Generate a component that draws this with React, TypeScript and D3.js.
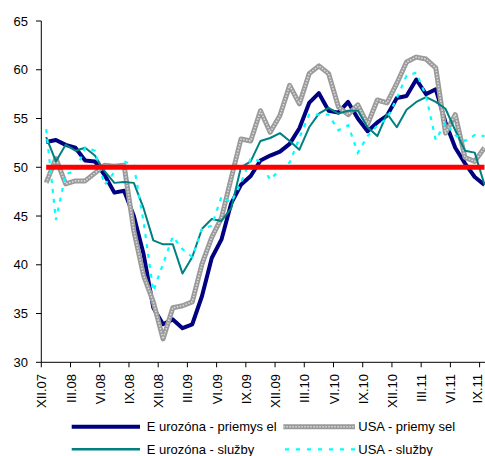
import React from "react";
import * as d3 from "d3";

const months = [
  "XII.07","I.08","II.08","III.08","IV.08","V.08","VI.08","VII.08","VIII.08","IX.08","X.08","XI.08",
  "XII.08","I.09","II.09","III.09","IV.09","V.09","VI.09","VII.09","VIII.09","IX.09","X.09","XI.09",
  "XII.09","I.10","II.10","III.10","IV.10","V.10","VI.10","VII.10","VIII.10","IX.10","X.10","XI.10",
  "XII.10","I.11","II.11","III.11","IV.11","V.11","VI.11","VII.11","VIII.11","IX.11",
];

const euroMfg = [52.6,52.8,52.3,52.0,50.7,50.6,49.2,47.4,47.6,45.0,41.1,35.6,33.9,34.4,33.5,33.9,36.8,40.7,42.6,46.3,48.2,49.1,50.7,51.2,51.6,52.4,54.0,56.6,57.6,55.8,55.6,56.7,55.0,53.7,54.6,55.3,57.1,57.3,59.0,57.5,58.0,54.6,52.0,50.4,49.0,48.2];
const usMfg = [48.4,50.9,48.3,48.6,48.6,49.4,50.2,50.1,50.2,43.5,38.9,36.2,32.4,35.6,35.8,36.2,40.1,42.8,44.8,48.9,52.9,52.7,55.8,53.6,55.3,58.4,56.5,59.6,60.4,59.6,56.2,55.4,56.4,54.4,56.9,56.6,58.6,60.8,61.3,61.1,60.2,53.5,55.4,51.0,50.6,52.0];
const euroSvc = [53.1,50.6,52.3,51.7,52.0,51.2,49.6,48.4,48.5,48.4,45.8,42.5,42.1,42.1,39.1,40.8,43.7,44.7,44.5,45.8,50.0,50.6,52.7,53.0,53.5,52.7,51.8,54.1,55.5,56.1,55.5,55.8,55.8,54.1,53.2,55.5,54.1,55.9,56.7,57.2,56.7,56.0,53.8,51.7,51.5,48.2];
const usSvc = [53.9,44.6,49.3,49.6,52.0,51.7,48.2,49.5,50.6,50.2,44.4,37.3,40.1,42.9,41.6,40.8,43.7,44.0,47.0,46.4,48.4,50.9,50.6,48.7,49.8,50.5,53.0,55.4,55.4,55.4,53.8,54.3,51.5,53.2,54.3,55.0,57.1,59.4,59.7,57.3,52.8,54.6,53.3,52.7,53.3,53.2];
const threshold = months.map(() => 50);

const yTicks = [30, 35, 40, 45, 50, 55, 60, 65];
const legendLabels = [
  "E urozóna  - priemys el",
  "USA  - priemy sel",
  "E urozóna  - služby",
  "USA  - služby",
];

const W = 485;
const H = 456;
const FONT = "'Liberation Sans', Arial, sans-serif";

export default function App() {
  const x = d3.scaleBand<string>().domain(months).range([41.3, 41.3 + 9.74 * months.length]);
  const cx = (i: number) => (x(months[i]) as number) + x.bandwidth() / 2;
  const y = d3.scaleLinear().domain([30, 65]).range([362.3, 21]);
  const line = d3.line<number>().x((_, i) => cx(i)).y((d) => y(d));

  const tickMonths = months.filter((_, i) => i % 3 === 0);

  return (
    <svg width={W} height={H} style={{ position: "absolute", left: 0, top: 0, background: "#fff" }} fontFamily={FONT}>
      <rect x={0} y={0} width={W} height={H} fill="#fff" />
      {/* series */}
      <path d={line(euroMfg) || ""} fill="none" stroke="#000080" strokeWidth={4} strokeLinejoin="round" />
      <path d={line(usMfg) || ""} fill="none" stroke="#9a9a9a" strokeWidth={5} strokeLinejoin="round" />
      <path d={line(usMfg) || ""} fill="none" stroke="#dcdcdc" strokeWidth={1.6} strokeDasharray="1.5,1.5" strokeLinejoin="round" />
      <path d={line(euroSvc) || ""} fill="none" stroke="#008080" strokeWidth={2} strokeLinejoin="round" />
      <path d={line(usSvc) || ""} fill="none" stroke="#00ffff" strokeWidth={2.2} strokeDasharray="4,6" />
      <path d={line(threshold) || ""} fill="none" stroke="#ff0000" strokeWidth={5} />

      {/* y axis */}
      <line x1={41.3} x2={41.3} y1={y(65)} y2={y(30)} stroke="#000" strokeWidth={1} />
      {yTicks.map((t) => (
        <g key={t}>
          <line x1={36} x2={41.3} y1={y(t)} y2={y(t)} stroke="#000" strokeWidth={1} />
          <text x={28} y={y(t)} dy="0.35em" textAnchor="end" fontSize={13} fill="#000">
            {t}
          </text>
        </g>
      ))}

      {/* x axis */}
      <line x1={41.3} x2={W} y1={y(30)} y2={y(30)} stroke="#000" strokeWidth={1} />
      {tickMonths.map((m, k) => {
        const tx = x(m) as number;
        const off = k === tickMonths.length - 1 ? -2 : 0.5;
        return (
          <g key={m}>
            <line x1={tx} x2={tx} y1={y(30)} y2={y(30) + 5} stroke="#000" strokeWidth={1} />
            <text
              transform={`translate(${tx + off},${374}) rotate(-90)`}
              textAnchor="end"
              dy="0.35em"
              fontSize={13}
              fill="#000"
            >
              {m}
            </text>
          </g>
        );
      })}

      {/* legend */}
      <g fontSize={13} fill="#000">
        <line x1={71.7} x2={140} y1={426.7} y2={426.7} stroke="#000080" strokeWidth={4} />
        <text x={146.7} y={426.7} dy="0.35em">{legendLabels[0]}</text>
        <line x1={283.3} x2={355} y1={426.7} y2={426.7} stroke="#9a9a9a" strokeWidth={5} />
        <line x1={283.3} x2={355} y1={426.7} y2={426.7} stroke="#dcdcdc" strokeWidth={1.6} strokeDasharray="1.5,1.5" />
        <text x={358.3} y={426.7} dy="0.35em">{legendLabels[1]}</text>
        <line x1={71.7} x2={140} y1={449.3} y2={449.3} stroke="#008080" strokeWidth={2.5} />
        <text x={146.7} y={449.3} dy="0.35em">{legendLabels[2]}</text>
        <line x1={285} x2={355} y1={449.3} y2={449.3} stroke="#00ffff" strokeWidth={2.2} strokeDasharray="4,7" />
        <text x={358.3} y={449.3} dy="0.35em">{legendLabels[3]}</text>
      </g>
    </svg>
  );
}
